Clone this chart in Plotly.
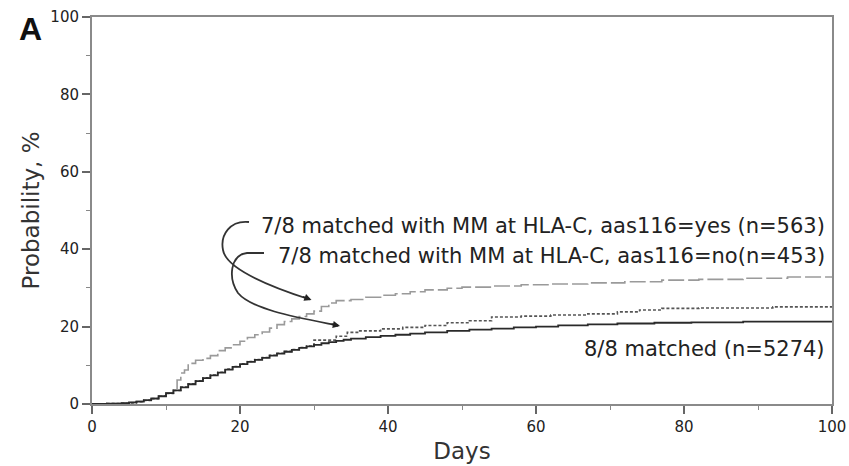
import plotly.graph_objects as go

# ---------------- data ----------------
days_88 = [0, 2, 4, 5, 6, 7, 8, 9, 10, 11, 12, 13, 14, 15, 16, 17, 18, 19, 20, 21, 22, 23, 24, 25,
           26, 27, 28, 29, 30, 31, 32, 33, 34, 35, 37, 39, 41, 43, 45, 48, 51, 54, 57, 60, 63, 67,
           71, 76, 81, 88, 100]
prob_88 = [0, 0.1, 0.2, 0.4, 0.6, 1.0, 1.4, 2.0, 2.8, 3.5, 4.3, 5.1, 5.9, 6.7, 7.4, 8.1, 8.9, 9.6, 10.3,
           10.9, 11.4, 11.9, 12.5, 13.0, 13.5, 14.0, 14.5, 14.9, 15.3, 15.7, 16.0, 16.3, 16.6, 16.9,
           17.3, 17.6, 17.9, 18.2, 18.5, 18.9, 19.2, 19.5, 19.8, 20.0, 20.3, 20.6, 20.8, 21.0, 21.1,
           21.3, 21.3]

days_yes = [0, 2, 4, 5, 6, 7, 8, 9, 10, 11, 11.5, 12, 12.5, 13, 14, 15, 16, 17, 18, 19, 20, 21, 22,
            23, 24, 25, 26, 27, 28, 29, 30, 31, 32, 33, 35, 37, 39, 41, 43, 45, 48, 50, 54, 58, 62,
            67, 72, 77, 82, 88, 94, 100]
prob_yes = [0, 0.1, 0.2, 0.4, 0.7, 1.0, 1.5, 2.1, 2.9, 3.6, 6.2, 8.0, 8.8, 10.5, 11.3, 11.8, 12.5,
            13.8, 14.5, 15.3, 16.2, 17.2, 17.9, 18.6, 19.6, 20.5, 21.3, 22.0, 22.6, 23.3, 24.0, 25.2,
            26.1, 26.7, 27.0, 27.6, 28.1, 28.5, 29.0, 29.5, 29.9, 30.2, 30.5, 30.8, 31.0, 31.3, 31.6,
            32.0, 32.2, 32.5, 32.8, 32.9]

days_no = [0, 2, 4, 5, 6, 7, 8, 9, 10, 11, 12, 13, 14, 15, 16, 17, 18, 19, 20, 21, 22, 23, 24, 25,
           26, 27, 28, 29, 30, 33, 34.5, 36, 39, 42, 45, 48, 51, 54, 58, 62, 67, 71, 74, 77, 82, 92,
           100]
prob_no = [0, 0.1, 0.2, 0.3, 0.6, 0.9, 1.4, 2.0, 2.7, 3.5, 4.4, 5.2, 6.0, 6.8, 7.5, 8.2, 9.0, 9.7,
           10.4, 11.0, 11.5, 12.0, 12.6, 13.1, 13.6, 14.1, 14.6, 15.0, 16.5, 17.5, 18.5, 18.9, 19.4,
           19.8, 20.3, 21.0, 21.5, 22.5, 22.7, 23.0, 23.3, 23.8, 24.3, 24.7, 24.8, 25.1, 25.1]

label_yes = "7/8 matched with MM at HLA-C, aas116=yes (n=563)"
label_no = "7/8 matched with MM at HLA-C, aas116=no(n=453)"
label_88 = "8/8 matched (n=5274)"

x_ticks = [0, 20, 40, 60, 80, 100]
y_ticks = [0, 20, 40, 60, 80, 100]

FONT = "DejaVu Sans"

fig = go.Figure()
fig.add_trace(go.Scatter(x=days_yes, y=prob_yes, mode="lines", line_shape="hv",
                         line=dict(color="#9a9a9a", width=1.6, dash="16px,4px"), name=label_yes))
fig.add_trace(go.Scatter(x=days_no, y=prob_no, mode="lines", line_shape="hv",
                         line=dict(color="#555555", width=1.6, dash="3px,2px"), name=label_no))
fig.add_trace(go.Scatter(x=days_88, y=prob_88, mode="lines", line_shape="hv",
                         line=dict(color="#2a2a2a", width=1.8), name=label_88))


# pixel -> data helper for the decorative callout arrows
def px2d(px, py):
    return (px - 92) / 7.4, (404 - py) / 3.87


def bez_path(pts):
    s = "M {},{}".format(*px2d(*pts[0]))
    i = 1
    while i < len(pts):
        a, b, c = px2d(*pts[i]), px2d(*pts[i + 1]), px2d(*pts[i + 2])
        s += " C {},{} {},{} {},{}".format(a[0], a[1], b[0], b[1], c[0], c[1])
        i += 3
    return s


arrow1 = [(249, 222), (230, 220), (220, 235), (223, 250), (226, 268), (268, 286), (310, 299.5)]
arrow2 = [(264, 253), (247, 253), (247, 253), (247, 253), (230, 255), (228, 278), (238, 293),
          (252, 310), (300, 318), (338, 325.5)]

for p in (arrow1, arrow2):
    fig.add_shape(type="path", path=bez_path(p), xref="x", yref="y",
                  line=dict(color="#333333", width=1.8))

for (ex, ey), (ax, ay) in [((311.5, 300), (-10, -3.8)), ((340, 326), (-10, -2.2))]:
    dx, dy = px2d(ex, ey)
    fig.add_annotation(x=dx, y=dy, xref="x", yref="y", text="", showarrow=True,
                       arrowhead=2, arrowsize=0.9, arrowwidth=1.6, arrowcolor="#222222",
                       ax=ax, ay=ay)

for txt, yy in [(label_yes, 46.0), (label_no, 38.2), (label_88, 14.2)]:
    fig.add_annotation(x=99.3, y=yy, xref="x", yref="y", text=txt, showarrow=False,
                       xanchor="right", yanchor="middle",
                       font=dict(family=FONT, size=21, color="#222222"))

fig.add_annotation(x=-0.083, y=0.97, xref="paper", yref="paper", text="<b>A</b>", showarrow=False,
                   xanchor="center", yanchor="middle",
                   font=dict(family="Liberation Sans", size=32, color="#111111"))

axis_common = dict(showline=True, linecolor="#8a8a8a", linewidth=2, mirror=True,
                   ticks="outside", ticklen=8, tickwidth=1.5, tickcolor="#666666",
                   showgrid=False, zeroline=False, automargin=False,
                   tickfont=dict(family=FONT, size=15, color="#222222"),
                   minor=dict(dtick=10, ticks="outside", ticklen=4, tickcolor="#888888", tickwidth=1.2))

fig.update_xaxes(range=[0, 100], tickvals=x_ticks,
                 title=dict(text="Days", font=dict(family=FONT, size=23, color="#333333"), standoff=8),
                 **axis_common)
fig.update_yaxes(range=[0, 100], tickvals=y_ticks,
                 title=dict(text="Probability, %", font=dict(family=FONT, size=23, color="#333333"), standoff=4),
                 **axis_common)

fig.update_layout(width=849, height=466, margin=dict(l=92, r=17, t=17, b=62),
                  plot_bgcolor="white", paper_bgcolor="white", showlegend=False)

fig.write_html("out.html")
